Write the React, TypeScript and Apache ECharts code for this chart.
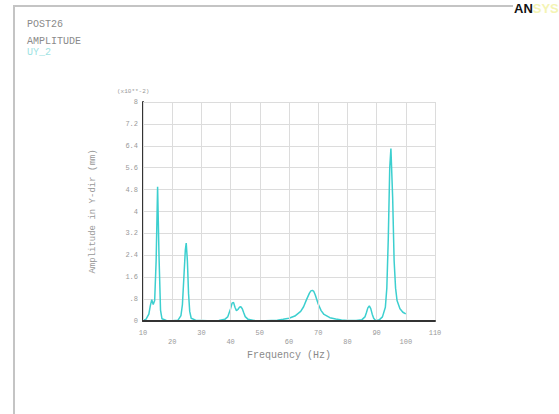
import React, { useEffect, useRef } from "react";
import * as echarts from "echarts";

// Frequency response samples: frequency (Hz) and amplitude (x10**-2 mm)
const freqHz = [
  10, 11, 12, 12.5, 13, 13.5, 14, 14.5, 15, 15.5, 16, 16.5, 18, 20, 22, 23, 23.5, 24, 24.5, 24.8,
  25.2, 25.6, 26, 26.5, 28, 32, 36, 38, 39, 40, 40.5, 41, 41.5, 42, 42.5, 43, 43.5, 44, 44.5, 45,
  46, 48, 52, 56, 58, 60, 62, 64, 65, 66, 67, 67.5, 68, 68.5, 69, 70, 71, 72, 74, 76, 78, 80, 83,
  85, 86, 86.5, 87, 87.5, 88, 88.5, 89, 89.5, 90, 91, 92, 93, 93.5, 94, 94.5, 94.9, 95.5, 96, 96.5,
  97, 98, 99, 100,
];
const amplitude = [
  0.03, 0.06, 0.25, 0.55, 0.78, 0.6, 0.75, 2.2, 4.9, 2.3, 0.4, 0.08, 0.02, 0.01, 0.03, 0.2, 0.6, 1.6,
  2.6, 2.85, 2.2, 1.0, 0.35, 0.1, 0.03, 0.01, 0.02, 0.06, 0.15, 0.45, 0.65, 0.68, 0.5, 0.38, 0.42,
  0.5, 0.52, 0.45, 0.3, 0.16, 0.06, 0.02, 0.01, 0.03, 0.06, 0.1, 0.18, 0.35, 0.52, 0.78, 1.02, 1.1,
  1.12, 1.08, 0.95, 0.62, 0.38, 0.24, 0.12, 0.07, 0.04, 0.02, 0.02, 0.05, 0.15, 0.3, 0.48, 0.55,
  0.45, 0.25, 0.1, 0.04, 0.02, 0.05, 0.15, 0.5, 1.2, 3.0, 5.6, 6.3, 4.5, 2.2, 1.2, 0.75, 0.45, 0.32,
  0.26,
];

const headerLines = ["POST26", "AMPLITUDE"];
const seriesName = "UY_2";
const yUnitLabel = "(x10**-2)";
const xTitle = "Frequency (Hz)";
const yTitle = "Amplitude in Y-dir (mm)";

const MONO = "'Liberation Mono', 'DejaVu Sans Mono', monospace";

export default function App() {
  const ref = useRef<HTMLDivElement>(null);

  useEffect(() => {
    if (!ref.current) return;
    const chart = echarts.init(ref.current, null, { renderer: "svg" });
    const data = freqHz.map((f, i) => [f, amplitude[i]]);

    chart.setOption({
      animation: false,
      backgroundColor: "#ffffff",
      grid: { left: 143, right: 124, top: 102, bottom: 93 },
      xAxis: {
        type: "value",
        min: 10,
        max: 110,
        interval: 10,
        z: 4,
        name: xTitle,
        nameLocation: "middle",
        nameGap: 19,
        nameTextStyle: { fontFamily: MONO, fontSize: 10, color: "#8a8a8a" },
        axisLine: { show: true, lineStyle: { color: "#333", width: 2 } },
        axisTick: { show: false },
        axisLabel: {
          fontFamily: MONO,
          fontSize: 7,
          color: "#999",
          margin: 7,
          lineHeight: 9,
          formatter: (v: number) => (Math.round(v / 10) % 2 === 1 ? String(v) : "\n" + v),
        },
        splitLine: { show: true, lineStyle: { color: "#dcdcdc", width: 1 } },
      },
      yAxis: {
        type: "value",
        min: 0,
        max: 8,
        interval: 0.8,
        name: yTitle,
        nameLocation: "middle",
        nameGap: 46,
        nameTextStyle: { fontFamily: MONO, fontSize: 9, color: "#999" },
        axisLine: { show: true, lineStyle: { color: "#333", width: 2 } },
        axisTick: { show: false },
        axisLabel: {
          fontFamily: MONO,
          fontSize: 7,
          color: "#999",
          margin: 5,
          formatter: (v: number) => {
            const r = Math.round(v * 10) / 10;
            return String(r).replace(/^0\./, ".");
          },
        },
        splitLine: { show: true, lineStyle: { color: "#dcdcdc", width: 1 } },
      },
      series: [
        {
          name: seriesName,
          type: "line",
          data,
          symbol: "none",
          lineStyle: { color: "#3ccfcf", width: 1.5 },
          z: 3,
        },
      ],
      graphic: [
        // outer frame
        {
          type: "polyline",
          shape: { points: [[14, 414], [14, 6], [513, 6]] },
          style: { stroke: "#c4c4c4", lineWidth: 2, fill: "none" },
        },
        {
          type: "text",
          x: 27,
          y: 19,
          style: { text: headerLines[0], font: `10px ${MONO}`, fill: "#8a8a8a" },
        },
        {
          type: "text",
          x: 27,
          y: 36,
          style: { text: headerLines[1], font: `10px ${MONO}`, fill: "#8a8a8a" },
        },
        {
          type: "text",
          x: 27,
          y: 47,
          style: { text: seriesName, font: `10px ${MONO}`, fill: "#9ee3e3" },
        },
        {
          type: "text",
          x: 117,
          y: 88,
          style: { text: yUnitLabel, font: `6px ${MONO}`, fill: "#999" },
        },
        {
          type: "text",
          x: 514,
          y: 2,
          style: {
            text: "{a|AN}{b|SYS}",
            rich: {
              a: { fontFamily: "Liberation Sans", fontWeight: "bold", fontSize: 13, fill: "#111" },
              b: { fontFamily: "Liberation Sans", fontWeight: "bold", fontSize: 13, fill: "#f4f4b4" },
            },
          },
        },
      ],
    });

    return () => chart.dispose();
  }, []);

  return (
    <div
      ref={ref}
      style={{ position: "absolute", left: 0, top: 0, width: 559, height: 414 }}
    />
  );
}
